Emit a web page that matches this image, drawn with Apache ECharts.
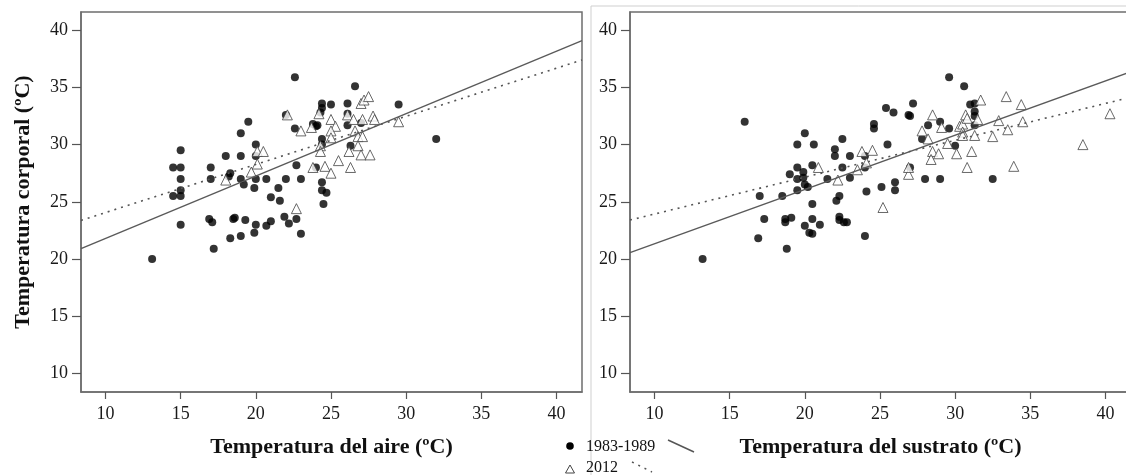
<!DOCTYPE html>
<html><head><meta charset="utf-8">
<script src="https://cdn.jsdelivr.net/npm/echarts@6/dist/echarts.min.js"></script>
<style>html,body{margin:0;padding:0;background:#fff}#c{width:1126px;height:475px}</style>
</head><body><div id="c"></div>
<script>
// ---- data ----
const tickValues = [10, 15, 20, 25, 30, 35, 40];
const axisRange = [8.37, 41.7];
const yRange = [8.36, 41.6];

const xTitleAir = 'Temperatura del aire (ºC)';
const xTitleSub = 'Temperatura del sustrato (ºC)';
const yTitle = 'Temperatura corporal (ºC)';
const legendNames = ['1983-1989', '2012'];

// Temperatura del aire vs corporal, 1983-1989 (filled circles)
const airPast = [
  [13.1,20.0],[17.2,20.9],[18.3,21.8],[19.0,22.0],[19.9,22.3],[23.0,22.2],
  [15.0,23.0],[16.9,23.5],[17.1,23.2],[18.5,23.5],[18.6,23.6],[19.3,23.4],[20.0,23.0],[20.7,22.9],[21.0,23.3],[21.9,23.7],[22.2,23.1],[22.7,23.5],
  [14.5,25.5],[15.0,25.5],[15.0,26.0],[15.0,27.0],[14.5,28.0],[15.0,28.0],[15.0,29.5],
  [17.0,28.0],[17.0,27.0],[18.0,29.0],[18.3,27.5],[18.2,27.2],[19.0,29.0],[19.0,31.0],[19.5,32.0],[19.0,27.0],[19.2,26.5],
  [20.0,30.0],[20.0,29.0],[19.9,26.2],[20.0,27.0],[20.7,27.0],[21.0,25.4],[21.5,26.2],[21.6,25.1],[22.0,27.0],
  [22.6,35.9],[22.6,31.4],[22.7,28.2],[23.0,27.0],[22.0,32.6],
  [23.8,31.8],[24.0,31.6],[24.1,31.7],[24.4,33.6],[24.4,33.2],[24.3,32.8],[25.0,33.5],
  [24.4,30.5],[24.4,30.0],[24.0,28.0],[24.4,26.7],[24.4,26.0],[24.7,25.8],[24.5,24.8],
  [26.1,33.6],[26.1,32.7],[26.1,31.7],[26.6,35.1],[26.3,29.9],[27.0,31.9],[29.5,33.5],[32.0,30.5]
];
// Temperatura del aire vs corporal, 2012 (open triangles)
const airRecent = [
  [18.0,26.9],[19.7,27.6],[20.1,28.3],[20.1,29.4],[20.5,29.4],[22.1,32.6],[23.0,31.2],[23.7,31.5],[24.2,32.7],
  [24.3,29.9],[24.3,29.4],[23.8,28.0],[24.6,28.1],[25.0,27.5],[25.0,32.2],[25.3,31.6],[25.0,31.2],[25.0,30.6],
  [25.5,28.6],[26.3,28.0],[26.2,29.4],[26.1,32.6],[26.5,32.2],[27.1,32.2],[27.0,33.6],[27.2,33.9],[27.5,34.2],
  [27.8,32.5],[27.9,32.2],[26.6,31.2],[26.8,30.7],[27.1,30.7],[26.8,29.9],[27.0,29.1],[27.6,29.1],[29.5,32.0],[22.7,24.4]
];
// Temperatura del sustrato vs corporal, 1983-1989
const subPast = [
  [13.2,20.0],[16.0,32.0],[16.9,21.8],[17.0,25.5],[17.3,23.5],[18.5,25.5],[18.7,23.5],[18.7,23.2],[19.1,23.6],[18.8,20.9],[19.0,27.4],
  [19.5,30.0],[19.5,28.0],[19.5,27.0],[19.5,26.0],[20.0,31.0],[19.9,27.6],[19.9,27.1],[20.0,26.5],[20.0,22.9],[20.3,22.3],[20.5,22.2],
  [20.2,26.3],[20.6,30.0],[20.5,28.2],[20.5,24.8],[20.5,23.5],[21.0,23.0],[21.5,27.0],[22.0,29.6],[22.0,29.0],[22.5,30.5],[22.5,28.0],
  [23.0,29.0],[23.0,27.1],[22.1,25.1],[22.3,25.5],[22.3,23.7],[22.3,23.4],[22.6,23.2],[22.8,23.2],[24.0,22.0],[24.0,29.0],[24.0,28.0],
  [24.1,25.9],[24.6,31.8],[24.6,31.4],[25.1,26.3],[25.4,33.2],[25.5,30.0],[25.9,32.8],[26.0,26.7],[26.0,26.0],[26.9,32.6],[27.0,32.5],
  [27.2,33.6],[27.0,28.0],[27.8,30.5],[28.0,27.0],[28.2,31.7],[29.0,32.0],[29.0,27.0],[29.6,31.4],[29.6,35.9],[30.0,29.9],[30.6,35.1],
  [31.0,33.5],[31.3,33.6],[31.3,32.9],[31.3,32.5],[31.3,31.7],[32.5,27.0]
];
// Temperatura del sustrato vs corporal, 2012
const subRecent = [
  [20.9,28.0],[22.2,26.9],[23.5,27.8],[23.8,29.4],[24.1,28.4],[24.5,29.5],[25.2,24.5],[26.9,27.4],[26.9,28.0],[27.8,31.2],
  [28.2,30.5],[28.5,32.6],[28.5,29.4],[28.4,28.7],[28.9,29.2],[29.1,31.5],[29.5,30.1],[30.1,29.2],[30.3,31.6],[30.5,31.8],
  [30.5,31.1],[30.5,30.8],[30.7,32.6],[30.8,32.3],[30.8,28.0],[31.1,29.4],[31.3,30.8],[31.5,32.2],[31.7,33.9],[32.5,30.7],
  [32.9,32.1],[33.4,34.2],[33.5,31.3],[33.9,28.1],[34.4,33.5],[34.5,32.0],[38.5,30.0],[40.3,32.7]
];
// fitted regression lines (end points)
const airFitPast = [[8.37,20.9],[41.7,39.1]];
const airFitRecent = [[8.37,23.37],[41.7,37.4]];
const subFitPast = [[8.37,20.55],[41.7,36.38]];
const subFitRecent = [[8.37,23.4],[41.7,34.15]];

// ---- chart ----
const serif = 'Liberation Serif';
const axisColor = '#6e6e6e';
function xAxis(gridIndex, name) {
  return {
    type: 'value', gridIndex, min: axisRange[0], max: axisRange[1],
    name, nameLocation: 'middle', nameGap: 44,
    nameTextStyle: {fontFamily: serif, fontWeight: 'bold', fontSize: 22, color: '#111'},
    axisLine: {show: true, onZero: false, lineStyle: {color: axisColor, width: 1.5}},
    axisTick: {show: true, length: 7, customValues: tickValues, lineStyle: {color: '#555', width: 1.2}},
    axisLabel: {customValues: tickValues, margin: 13, fontFamily: serif, fontSize: 18, color: '#1a1a1a'},
    splitLine: {show: false}
  };
}
function yAxis(gridIndex, name) {
  return {
    type: 'value', gridIndex, min: yRange[0], max: yRange[1],
    name: name || '', nameLocation: 'middle', nameGap: 47, nameRotate: 90,
    nameTextStyle: {fontFamily: serif, fontWeight: 'bold', fontSize: 22, color: '#111'},
    axisLine: {show: true, onZero: false, lineStyle: {color: axisColor, width: 1.5}},
    axisTick: {show: true, length: 9, customValues: tickValues, lineStyle: {color: '#555', width: 1.2}},
    axisLabel: {customValues: tickValues, margin: 13, fontFamily: serif, fontSize: 18, color: '#1a1a1a'},
    splitLine: {show: false}
  };
}
function fitLine(i, data, dotted) {
  return {type: 'line', xAxisIndex: i, yAxisIndex: i, data, symbol: 'none', silent: true,
    lineStyle: {color: dotted ? '#555' : '#5a5a5a', width: dotted ? 1.6 : 1.4, type: dotted ? [2, 5] : 'solid'}};
}
function circles(i, data) {
  return {type: 'scatter', xAxisIndex: i, yAxisIndex: i, data, symbol: 'circle', symbolSize: 8,
    itemStyle: {color: '#000'}};
}
function triangles(i, data) {
  return {type: 'scatter', xAxisIndex: i, yAxisIndex: i, data, symbol: 'triangle', symbolSize: 10,
    itemStyle: {color: '#fff', borderColor: '#444', borderWidth: 1}};
}

const chart = echarts.init(document.getElementById('c'), null, {renderer: 'canvas'});
chart.setOption({
  animation: false,
  backgroundColor: '#fff',
  grid: [
    {left: 81, top: 12, width: 501, height: 380, show: true, borderColor: axisColor, borderWidth: 1.5, outerBoundsMode: 'none', containLabel: false},
    {left: 630, top: 12, width: 501, height: 380, show: true, borderColor: axisColor, borderWidth: 1.5, outerBoundsMode: 'none', containLabel: false}
  ],
  xAxis: [xAxis(0, xTitleAir), xAxis(1, xTitleSub)],
  yAxis: [yAxis(0, yTitle), yAxis(1, '')],
  series: [
    fitLine(0, airFitPast, false), fitLine(0, airFitRecent, true),
    circles(0, airPast), triangles(0, airRecent),
    fitLine(1, subFitPast, false), fitLine(1, subFitRecent, true),
    circles(1, subPast), triangles(1, subRecent)
  ],
  graphic: [
    {type: 'line', shape: {x1: 591, y1: 6, x2: 591, y2: 475}, style: {stroke: '#cfcfcf', lineWidth: 1}, z: -1},
    {type: 'line', shape: {x1: 591, y1: 6, x2: 1126, y2: 6}, style: {stroke: '#cfcfcf', lineWidth: 1}, z: -1},
    {type: 'circle', shape: {cx: 570, cy: 446, r: 3.8}, style: {fill: '#000'}},
    {type: 'text', x: 586, y: 447, style: {text: legendNames[0], font: '16px "Liberation Serif"', fill: '#111', verticalAlign: 'middle'}},
    {type: 'line', shape: {x1: 668, y1: 440, x2: 694, y2: 452}, style: {stroke: '#555', lineWidth: 1.5}},
    {type: 'polygon', shape: {points: [[565.5, 473], [574.5, 473], [570, 465]]}, style: {fill: '#fff', stroke: '#444', lineWidth: 1}},
    {type: 'text', x: 586, y: 468, style: {text: legendNames[1], font: '16px "Liberation Serif"', fill: '#111', verticalAlign: 'middle'}},
    {type: 'line', shape: {x1: 632, y1: 462, x2: 652, y2: 472}, style: {stroke: '#555', lineWidth: 1.5, lineDash: [2, 5]}}
  ]
});
</script></body></html>
